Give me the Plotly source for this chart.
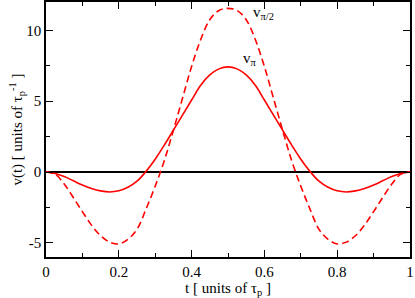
import plotly.graph_objects as go

t = [0.0, 0.025, 0.05, 0.075, 0.1, 0.125, 0.15, 0.175, 0.2, 0.225, 0.25, 0.275, 0.3, 0.325, 0.35, 0.375, 0.4, 0.425, 0.45, 0.475, 0.5,
     0.525, 0.55, 0.575, 0.6, 0.625, 0.65, 0.675, 0.7, 0.725, 0.75, 0.775, 0.8, 0.825, 0.85, 0.875, 0.9, 0.925, 0.95, 0.975, 1.0]

v_pi = [0.0, -0.1, -0.32, -0.62, -0.92, -1.16, -1.33, -1.41, -1.33, -1.08, -0.65, 0.05, 0.9, 1.9, 2.95, 4.02, 5.08, 6.12, 6.85, 7.28, 7.42,
        7.28, 6.85, 6.12, 5.08, 4.02, 2.95, 1.9, 0.9, 0.05, -0.65, -1.08, -1.33, -1.41, -1.33, -1.16, -0.92, -0.62, -0.32, -0.1, 0.0]

v_pi2 = [0.0, -0.15, -0.85, -1.8, -2.8, -3.75, -4.5, -4.95, -5.08, -4.75, -4.05, -2.6, -1.0, 0.8, 2.95, 5.2, 7.45, 9.35, 10.75, 11.4, 11.55,
         11.4, 10.75, 9.35, 7.45, 5.2, 2.95, 0.8, -1.0, -2.6, -4.05, -4.75, -5.08, -4.95, -4.5, -3.75, -2.8, -1.8, -0.85, -0.15, 0.0]

x_tickvals = [0, 0.2, 0.4, 0.6, 0.8, 1]
x_ticktext = ["0", "0.2", "0.4", "0.6", "0.8", "1"]
y_tickvals = [-5, 0, 5, 10]
y_ticktext = ["-5", "0", "5", "10"]

font = "Liberation Serif"

fig = go.Figure()
fig.add_trace(go.Scatter(x=t, y=v_pi, mode="lines", line=dict(color="#ff0000", width=1.6, shape="spline"), showlegend=False))
fig.add_trace(go.Scatter(x=t, y=v_pi2, mode="lines", line=dict(color="#ff0000", width=1.6, shape="spline", dash="7px,4px"), showlegend=False))

axis_common = dict(
    showline=True, linecolor="black", linewidth=1.5, mirror="allticks",
    ticks="inside", ticklen=7, tickwidth=1, tickcolor="black",
    showgrid=False,
    tickfont=dict(family=font, size=15, color="black"),
)

fig.update_xaxes(
    range=[0, 1], tickvals=x_tickvals, ticktext=x_ticktext,
    minor=dict(ticks="inside", ticklen=4, tickwidth=1, tickcolor="black", dtick=0.1, showgrid=False),
    zeroline=False,
    title=dict(text="t [ units of τ<sub>p</sub> ]", font=dict(family=font, size=15, color="black"), standoff=0),
    ticklabelstandoff=0,
    **axis_common,
)
fig.update_yaxes(
    range=[-6, 12], tickvals=y_tickvals, ticktext=y_ticktext,
    minor=dict(ticks="inside", ticklen=4, tickwidth=1, tickcolor="black", dtick=2.5, tick0=0, showgrid=False),
    zeroline=True, zerolinecolor="black", zerolinewidth=2,
    title=dict(text="v(t) [ units of τ<sub>p</sub><sup>-1</sup> ]", font=dict(family=font, size=15, color="black"), standoff=0),
    **axis_common,
)

fig.add_annotation(x=0.563, y=11.2, text="v<sub>π/2</sub>", showarrow=False, xanchor="left", yanchor="middle",
                   font=dict(family=font, size=15, color="black"))
fig.add_annotation(x=0.537, y=8.0, text="v<sub>π</sub>", showarrow=False, xanchor="left", yanchor="middle",
                   font=dict(family=font, size=15, color="black"))

fig.update_layout(
    width=415, height=298,
    margin=dict(l=46, r=5, t=2, b=41, autoexpand=False),
    plot_bgcolor="white", paper_bgcolor="white",
)

fig.write_html("out.html", config={"displayModeBar": False},
               post_script="document.body.style.margin='0';document.body.style.overflow='hidden';")
